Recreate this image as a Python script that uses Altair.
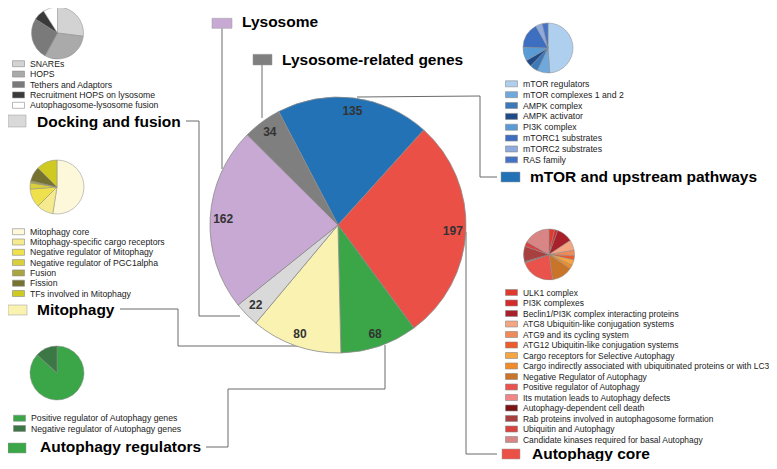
import math
import altair as alt
import pandas as pd

# ---------------- data ----------------
main_cats = ["mTOR and upstream pathways", "Autophagy core", "Autophagy regulators",
             "Mitophagy", "Docking and fusion", "Lysosome", "Lysosome-related genes"]
main_vals = [135, 197, 68, 80, 22, 162, 34]
main_colors = ["#2272B5", "#EB5047", "#3AA648", "#FAF2B0", "#D9D9D9", "#C8A9D3", "#7F7F7F"]

dock_cats = ["SNAREs", "HOPS", "Tethers and Adaptors", "Recruitment HOPS on lysosome",
             "Autophagosome-lysosome fusion"]
dock_vals = [27, 31, 26, 7, 9]
dock_colors = ["#D3D3D3", "#AAAAAA", "#7A7A7A", "#3A3A3A", "#FFFFFF"]

mito_cats = ["Mitophagy core", "Mitophagy-specific cargo receptors", "Negative regulator of Mitophagy",
             "Negative regulator of PGC1alpha", "Fusion", "Fission", "TFs involved in Mitophagy"]
mito_vals = [42, 8, 9, 3, 1, 7, 10]
mito_colors = ["#FDF8DA", "#F5EA8E", "#EFE14C", "#D9CF3C", "#ABA541", "#767330", "#CFCA22"]

reg_cats = ["Positive regulator of Autophagy genes", "Negative regulator of Autophagy genes"]
reg_vals = [59, 9]
reg_colors = ["#3AA648", "#3C7845"]

mtor_cats = ["mTOR regulators", "mTOR complexes 1 and 2", "AMPK complex", "AMPK activator",
             "PI3K complex", "mTORC1 substrates", "mTORC2 substrates", "RAS family"]
mtor_vals = [66, 11, 7, 6, 12, 22, 6, 5]
mtor_colors = ["#AFCFEE", "#6FA8DC", "#3D78B8", "#1F4A87", "#5B9BD5", "#3E6EBF", "#8FAADC", "#4472C4"]

core_cats = ["ULK1 complex", "PI3K complexes", "Beclin1/PI3K complex interacting proteins",
             "ATG8 Ubiquitin-like conjugation systems", "ATG9 and its cycling system",
             "ATG12 Ubiquitin-like conjugation systems", "Cargo receptors for Selective Autophagy",
             "Cargo indirectly associated with ubiquitinated proteins or with LC3",
             "Negative Regulator of Autophagy", "Positive regulator of Autophagy",
             "Its mutation leads to Autophagy defects", "Autophagy-dependent cell death",
             "Rab proteins involved in autophagosome formation", "Ubiquitin and Autophagy",
             "Candidate kinases required for basal Autophagy"]
core_vals = [7, 4, 20, 13, 7, 5, 7, 5, 26, 43, 1, 1, 19, 6, 33]
core_colors = ["#E03A2F", "#D42A2A", "#A8202A", "#F4A582", "#F08A5A", "#EE5A2C", "#F7A541",
               "#F28C28", "#C8752A", "#E9534B", "#F28585", "#7A1414", "#A84040", "#D8423F", "#D98585"]

# ---------------- layout (page pixels) ----------------
OFF = 8
W, H = 761, 453
FONT = "Liberation Sans"
STROKE = "#8a8a8a"
RECT = "M-1,-0.5H1V0.5H-1Z"


def px(v):
    return v - OFF


main_center = (338, 225)
main_r = 128
start = math.radians(-27.6)


def legend(lx, ly, row_pad, fsize):
    return alt.Legend(orient="none", legendX=px(lx), legendY=px(ly), title=None,
                      direction="vertical", columns=1,
                      symbolType=RECT, symbolSize=144, symbolStrokeColor=STROKE,
                      symbolStrokeWidth=0.6, symbolOffset=0, clipHeight=9,
                      rowPadding=row_pad, labelFontSize=fsize, labelFont=FONT,
                      labelColor="#222222", labelLimit=500, labelOffset=5, padding=0)


def small_pie(cats, vals, colors, field, center, r, lx, ly, row_pad, fsize=8.7):
    df = pd.DataFrame({field: cats, "value": vals, "idx": list(range(len(cats)))})
    return alt.Chart(df).mark_arc(radius=r, stroke=STROKE, strokeWidth=0.5).encode(
        x=alt.value(px(center[0])), y=alt.value(px(center[1])),
        theta=alt.Theta("value:Q", stack=True),
        order=alt.Order("idx:Q"),
        color=alt.Color(f"{field}:N", scale=alt.Scale(domain=cats, range=colors),
                        legend=legend(lx, ly, row_pad, fsize)),
    )


main_df = pd.DataFrame({"cat": main_cats, "count": main_vals, "idx": list(range(len(main_cats)))})
theta_main = alt.Theta("count:Q", stack=True,
                       scale=alt.Scale(range=[start, start + 2 * math.pi]))

main_pie = alt.Chart(main_df).mark_arc(radius=main_r, stroke=STROKE, strokeWidth=0.8).encode(
    x=alt.value(px(main_center[0])), y=alt.value(px(main_center[1])),
    theta=theta_main, order=alt.Order("idx:Q"),
    color=alt.Color("cat:N", scale=alt.Scale(domain=main_cats, range=main_colors), legend=None),
)
main_text = alt.Chart(main_df).mark_text(radius=115, fontSize=12, fontWeight="bold",
                                         color="#333333", font=FONT).encode(
    x=alt.value(px(main_center[0])), y=alt.value(px(main_center[1])),
    theta=theta_main, order=alt.Order("idx:Q"),
    text=alt.Text("count:Q"),
)

pies = [
    small_pie(dock_cats, dock_vals, dock_colors, "dock", (57.5, 33), 26, 12, 59.2, 0.4),
    small_pie(mito_cats, mito_vals, mito_colors, "mito", (57, 187), 27, 12, 227.2, 0.3),
    small_pie(reg_cats, reg_vals, reg_colors, "reg", (57, 373), 27, 13, 413.7, 0.3),
    small_pie(mtor_cats, mtor_vals, mtor_colors, "mtor", (548, 48), 25, 505, 79.3, 0.86),
    small_pie(core_cats, core_vals, core_colors, "core", (549, 254.5), 25.5, 505, 288.0, 1.5, 8.45),
]

# category titles: square box + bold label (page pixels)
titles = pd.DataFrame({
    "name": ["Lysosome", "Lysosome-related genes", "Docking and fusion", "Mitophagy",
             "Autophagy regulators", "mTOR and upstream pathways", "Autophagy core"],
    "color": ["#C8A9D3", "#7F7F7F", "#D9D9D9", "#FAF2B0", "#3AA648", "#2272B5", "#EB5047"],
})
layout = pd.DataFrame({
    "sx": [212, 253, 8, 8, 8, 501, 502],
    "sx2": [232, 272, 26, 27, 26, 520, 520],
    "sy": [18.3, 54.3, 115, 305, 443, 172, 449],
    "sy2": [28.3, 65, 127, 315, 453, 182, 459],
    "tx": [242, 282, 37, 37, 40, 530, 532],
    "ty": [27.2, 64.5, 127.2, 314.5, 452.2, 182, 458.5],
})
tdf = pd.concat([titles, layout.apply(lambda c: c - OFF)], axis=1)

title_boxes = alt.Chart(tdf).mark_rect(stroke="#9a9a9a", strokeWidth=0.5).encode(
    x=alt.X("sx:Q", scale=None), x2="sx2:Q",
    y=alt.Y("sy:Q", scale=None), y2="sy2:Q",
    color=alt.Color("color:N", scale=None),
)
title_text = alt.Chart(tdf).mark_text(align="left", baseline="alphabetic", fontSize=15.5,
                                      fontWeight="bold", font=FONT, color="#000000").encode(
    x=alt.X("tx:Q", scale=None), y=alt.Y("ty:Q", scale=None), text="name:N",
)

# connector lines (page pixels)
segs = [
    (222, 28.3, 222, 169),
    (262, 65, 262, 118),
    (186, 121, 199, 121), (199, 121, 199, 316), (199, 316, 240, 316),
    (120, 309, 178, 309), (178, 309, 178, 346), (178, 346, 303, 346),
    (206, 447, 228, 447), (228, 447, 228, 389), (228, 389, 385, 389), (385, 389, 385, 345),
    (357, 97, 480, 96), (480, 96, 480, 177), (480, 177, 497, 177),
    (466, 232, 466, 454), (466, 454, 497, 454),
]
seg_df = pd.DataFrame([[a - OFF, b - OFF, c - OFF, d - OFF] for a, b, c, d in segs],
                      columns=["x1", "y1", "x2", "y2"])
lines = alt.Chart(seg_df).mark_rule(color="#6b6b6b", strokeWidth=1).encode(
    x=alt.X("x1:Q", scale=None), y=alt.Y("y1:Q", scale=None),
    x2="x2:Q", y2="y2:Q",
)

chart = alt.layer(lines, main_pie, main_text, *pies, title_boxes, title_text).properties(
    width=W, height=H, autosize=alt.AutoSizeParams(type="none"), padding=0,
).resolve_scale(theta="independent", color="independent").configure_view(stroke=None)

chart.save("out.html", embed_options={"renderer": "svg", "actions": False})
